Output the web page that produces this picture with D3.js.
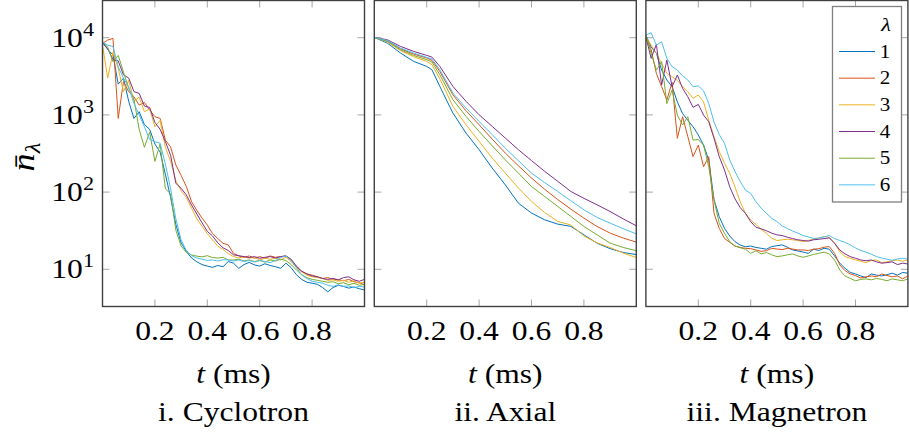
<!DOCTYPE html>
<html><head><meta charset="utf-8">
<script src="https://cdn.jsdelivr.net/npm/d3@7"></script>
<style>
body{margin:0;background:#fff}
svg{display:block}
text{font-family:"Liberation Serif","Times New Roman",serif;fill:#000}
</style>
</head><body>
<svg id="chart" width="909" height="434"></svg>
<script>
// ---------------- data ----------------
const tGrid = [0,0.02,0.04,0.06,0.08,0.10,0.12,0.14,0.16,0.18,0.20,0.22,0.24,0.26,0.28,0.30,0.32,0.34,0.36,0.38,0.40,0.42,0.44,0.46,0.48,0.50,0.52,0.54,0.56,0.58,0.60,0.62,0.64,0.66,0.68,0.70,0.72,0.74,0.76,0.78,0.80,0.82,0.84,0.86,0.88,0.90,0.92,0.94,0.96,0.98,1.00];
const tAxial = [0,0.05,0.10,0.15,0.20,0.22,0.25,0.30,0.35,0.40,0.45,0.50,0.55,0.60,0.65,0.70,0.75,0.80,0.85,0.90,0.95,1.00];

const seriesLabels = ["1","2","3","4","5","6"];
const seriesColors = ["#0072BD","#D95319","#EDB120","#7E2F8E","#77AC30","#4DBEEE"];
const panelTitles = ["i. Cyclotron","ii. Axial","iii. Magnetron"];
const xTicks = [0.2,0.4,0.6,0.8];
const xTickLabels = ["0.2","0.4","0.6","0.8"];
const yTicks = [10,100,1000,10000];
const yTickExps = ["1","2","3","4"];

// i. Cyclotron (t = tGrid)
const cyc1 = [9000,7000,6000,2500,3000,1500,900,1100,750,650,420,330,170,85,38,22,17,14,12.5,11.5,11.0,10.6,11.2,10.8,12.6,12.0,10.3,11.5,12.3,11.4,11.0,11.8,11.2,10.8,10.3,12.0,10.5,8.5,7.4,6.8,6.6,6.4,5.8,5.1,5.8,6.2,6.0,5.7,5.9,5.6,5.4];
const cyc2 = [8450,9330,9800,900,2700,2000,1720,1340,1450,1160,950,900,470,385,224,165,118,75,58,46,37.5,29,25,21.7,20.7,16.1,14.9,14.3,14.9,13.9,14.6,13.9,14.9,14.3,14.6,14.9,13.2,10.8,9.3,8.7,8.4,8.0,7.6,7.8,7.4,7.3,7.1,7.4,6.9,6.7,6.3];
const cyc3 = [8000,3000,6500,4000,2000,2800,1500,1700,1100,1200,700,850,380,250,140,105,85,62,45,36,29,24,20,18,16,14.6,14.0,14.6,13.9,14.3,13.2,13.9,13.5,14.0,13.2,14.3,12.6,10.5,9.3,8.4,8.0,7.8,7.6,7.2,7.3,7.0,7.2,6.8,7.1,6.6,6.8];
const cyc4 = [8500,7200,5200,5000,3300,3000,2000,1900,1300,1250,800,650,450,300,130,112,92,68,52,40,31,27,22,19,17.5,15.4,15.0,14.6,14.2,14.6,13.9,14.3,14.6,14.0,14.6,14.9,13.5,11.0,9.5,8.7,8.2,8.0,7.6,7.4,7.6,7.3,7.8,8.0,7.3,7.0,7.4];
const cyc5 = [8900,7500,4900,5900,3600,2200,1600,650,380,600,250,420,110,95,32,20,16.5,15.3,14.8,14.5,15.0,14.2,14.0,14.3,13.2,13.2,13.5,12.8,13.2,12.6,13.0,12.4,13.2,12.8,13.5,13.0,11.5,9.8,8.5,7.8,7.4,7.2,7.0,6.8,6.9,6.5,6.7,6.3,6.6,6.2,6.4];
const cyc6 = [8800,8000,7700,4200,3000,2300,1400,1000,700,480,450,430,230,110,45,24,17.5,15.0,14.0,13.5,13.0,13.2,12.8,13.3,13.2,12.8,13.2,12.6,13.0,12.4,13.0,12.6,12.2,13.0,14.2,14.9,13.0,10.5,8.5,7.6,7.0,6.8,6.6,6.2,6.0,6.3,6.0,6.1,5.8,6.0,5.9];

// ii. Axial (t = tAxial)
const ax1 = [10100,8500,6330,4940,4250,3850,2340,1057,582,354,205,124,71.9,53.5,43.8,38.5,36,28,21.8,18.5,16.5,15.5];
const ax2 = [10100,9050,7200,6140,5450,5090,3660,1820,1132,746,486,320,219,152,109,80,60.3,46,35.9,29.4,25.4,22.5];
const ax3 = [10100,8800,6800,5680,4940,4470,2940,1290,746,454,276,176,113,75.7,54.5,41.7,37.5,27,22,19.2,16.2,14.2];
const ax4 = [10100,9400,7720,6650,5900,5610,4250,2340,1500,1005,710,501,354,256,186,138,102,83,68.5,56,45,36.6];
const ax5 = [10100,8950,6980,5900,5190,4840,3320,1575,957,611,398,262,176,118,87.9,65.2,48.4,35.9,28,21.8,19.2,17.4];
const ax6 = [10100,9200,7350,6330,5560,5290,3850,1920,1226,824,554,371,255,176,133,102,77.3,59,47,39.7,33.5,28.8];

// iii. Magnetron (t = tGrid)
const mag1 = [10800,7600,6270,3810,2830,2320,1480,1040,850,703,550,407,260,80,48,33.9,27,22.8,20.6,19.6,20.0,19.2,18.7,18.2,19.7,20.2,20.7,19.3,17.8,17.3,16.7,16.1,18.2,17.5,18.7,18.2,14.9,12.0,10.3,9.1,8.7,8.2,7.8,8.7,8.4,8.2,8.5,8.9,8.4,9.1,8.9];
const mag2 = [10300,7000,3450,2320,1560,2650,497,948,522,288,407,213,288,53,33.9,25.1,22.4,20,19.2,18.7,18.5,17.8,17.1,17.4,18.7,18.3,18.0,18.7,18.3,17.8,17.8,17.5,18.2,18.5,19.3,19.7,16.1,11.4,9.6,8.7,8.3,7.7,8.0,8.2,8.0,8.7,8.3,8.0,8.2,7.5,8.2];
const mag3 = [10300,8000,6270,4650,3450,3130,2800,2320,2000,1640,1810,1480,850,522,335,236,175,117,75,53,43.5,38,33,29.2,25.3,23.6,24.1,24.5,24.1,23.6,22.9,23.6,24.5,25.3,26.6,26.0,21.8,16.9,14.6,13.9,13.2,12.7,12.2,13.0,13.2,12.2,12.5,12.9,13.2,12.7,13.2];
const mag4 = [10300,5400,8200,2440,5130,2320,3280,2210,1720,1250,1370,995,815,497,288,193,117,82,63,53,41.4,35,33.4,31.6,29.4,27.9,27.4,26.0,25.0,24.1,23.6,23.2,24.1,24.5,25.0,25.5,21.8,17.8,15.8,14.6,13.9,13.2,12.9,13.2,12.5,12.0,12.2,12.5,11.5,12.0,11.7];
const mag5 = [10800,6270,3810,4900,1400,2100,995,740,948,472,480,407,213,79,39.3,29.2,22.8,20,19,18.2,16.1,17.4,15.8,16.5,15.4,14.6,14.9,15.4,15.8,14.9,14.3,14.9,15.6,16.1,16.7,15.8,13.2,9.8,8.2,7.6,7.1,7.4,7.5,7.3,7.6,7.4,7.1,7.5,7.3,7.1,7.5];
const mag6 = [10800,11600,8000,8880,5400,4210,3810,3200,2830,2320,2380,2050,1410,810,555,428,260,185,137,106,96,75,62,53,45.9,41.6,36.5,33.7,31.3,29.4,27.4,26.3,25.0,25.5,26.3,27.4,25.0,23.6,22.3,20.7,18.9,17.5,16.7,15.7,14.6,14.0,13.5,13.1,13.6,13.9,13.5];

const panels = [
  {t: tGrid,  series: [cyc1,cyc2,cyc3,cyc4,cyc5,cyc6]},
  {t: tAxial, series: [ax1,ax2,ax3,ax4,ax5,ax6]},
  {t: tGrid,  series: [mag1,mag2,mag3,mag4,mag5,mag6]}
];

// ---------------- layout ----------------
const SX = 1.17;               // horizontal text stretch
const FS = 27;                 // main font size
const panelLeft = [102.5, 374.3, 645.9];
const panelW = 262;
const plotTop = 0.5, plotBottom = 306.5;
const tickLen = 7;

const svg = d3.select("#chart");
const defs = svg.append("defs");

const y = d3.scaleLog().domain([Math.pow(10,0.518), Math.pow(10,4.482)]).range([plotBottom, plotTop]);

function stretchedText(parent, x, yy, anchor, size, rotate) {
  const g = parent.append("g")
    .attr("transform", `translate(${x},${yy})` + (rotate ? ` rotate(${rotate})` : "") + ` scale(${SX},1)`);
  return g.append("text").attr("text-anchor", anchor).style("font-size", size + "px");
}

panels.forEach((p, pi) => {
  const x0 = panelLeft[pi], x1 = x0 + panelW;
  const x = d3.scaleLinear().domain([0, 1]).range([x0, x1]);
  const g = svg.append("g");

  defs.append("clipPath").attr("id", "clip" + pi)
    .append("rect").attr("x", x0).attr("y", plotTop).attr("width", panelW).attr("height", plotBottom - plotTop);

  // tick marks (inside, on all four sides)
  const tk = g.append("g").attr("stroke", "#a6a6a6").attr("stroke-width", 1);
  xTicks.forEach(v => {
    const xx = x(v);
    tk.append("line").attr("x1", xx).attr("x2", xx).attr("y1", plotBottom).attr("y2", plotBottom - tickLen);
    tk.append("line").attr("x1", xx).attr("x2", xx).attr("y1", plotTop).attr("y2", plotTop + tickLen);
  });
  yTicks.forEach(v => {
    const yy = y(v);
    tk.append("line").attr("x1", x0).attr("x2", x0 + tickLen).attr("y1", yy).attr("y2", yy);
    tk.append("line").attr("x1", x1).attr("x2", x1 - tickLen).attr("y1", yy).attr("y2", yy);
  });

  // lines
  const line = d3.line().x((d, i) => x(p.t[i])).y(d => y(d));
  const lg = g.append("g").attr("clip-path", `url(#clip${pi})`);
  p.series.forEach((s, si) => {
    lg.append("path").attr("d", line(s)).attr("fill", "none")
      .attr("stroke", seriesColors[si]).attr("stroke-width", 1).attr("stroke-linejoin", "round");
  });

  // frame
  g.append("rect").attr("x", x0).attr("y", plotTop).attr("width", panelW).attr("height", plotBottom - plotTop)
    .attr("fill", "none").attr("stroke", "#404040").attr("stroke-width", 1.4);

  // x tick labels
  xTicks.forEach((v, i) => {
    stretchedText(g, x(v), 340, "middle", FS).text(xTickLabels[i]);
  });

  // x axis label
  const xl = stretchedText(g, (x0 + x1) / 2, 383, "middle", FS);
  xl.append("tspan").style("font-style", "italic").text("t");
  xl.append("tspan").text(" (ms)");

  // panel title
  stretchedText(g, (x0 + x1) / 2, 420.5, "middle", FS).text(panelTitles[pi]);

  // y tick labels (first panel only)
  if (pi === 0) {
    yTicks.forEach((v, i) => {
      const t = stretchedText(g, 94, y(v) + 9, "end", FS);
      t.append("tspan").text("10");
      t.append("tspan").attr("dy", -11).style("font-size", "19px").text(yTickExps[i]);
    });
  }
});

// y axis label
const yl = stretchedText(svg, 34, 157, "middle", 31, -90);
yl.append("tspan").style("font-style", "italic").text("n\u0304");
yl.append("tspan").attr("dy", 6).style("font-style", "italic").style("font-size", "21px").text("\u03bb");

// legend
const leg = svg.append("g");
leg.append("rect").attr("x", 832.5).attr("y", 6.5).attr("width", 69).attr("height", 195.5)
  .attr("fill", "#fff").attr("stroke", "#808080").attr("stroke-width", 1.3);
stretchedText(leg, 886, 30.5, "middle", 19).style("font-style", "italic").text("\u03bb");
seriesLabels.forEach((lab, i) => {
  const yy = 51.5 + i * 26.67;
  leg.append("line").attr("x1", 839).attr("x2", 875).attr("y1", yy).attr("y2", yy)
    .attr("stroke", seriesColors[i]).attr("stroke-width", 1);
  stretchedText(leg, 885, yy + 6, "middle", 18).text(lab);
});
</script>
</body></html>
